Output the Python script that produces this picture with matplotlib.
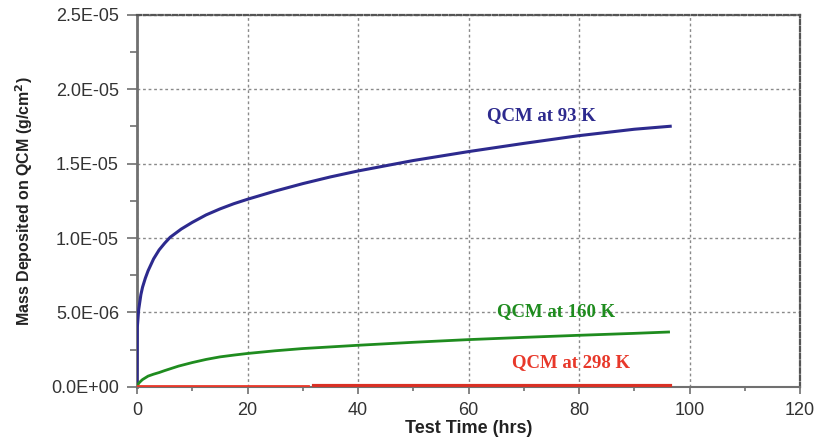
import numpy as np
import matplotlib
matplotlib.use("Agg")
import matplotlib.pyplot as plt
from matplotlib.ticker import MultipleLocator, FuncFormatter

plt.rcParams['font.family'] = ['Liberation Sans', 'DejaVu Sans']

# QCM data (time in hrs, mass in 1e-6 g/cm^2)
t_93 = [0, 0.05, 0.3, 0.7, 1, 1.5, 2, 3, 4, 5, 6, 8, 10, 12.5, 15, 17.5, 20, 25, 30, 35,
        40, 50, 60, 70, 80, 90, 96.5]
m_93 = [0, 4.0, 5.2, 6.2, 6.7, 7.3, 7.8, 8.6, 9.2, 9.65, 10.05, 10.6, 11.05, 11.55, 11.95,
        12.3, 12.6, 13.15, 13.65, 14.1, 14.5, 15.2, 15.8, 16.35, 16.87, 17.3, 17.5]

t_160 = [0, 0.3, 0.7, 1, 2, 3, 4, 5, 7.5, 10, 12.5, 15, 17.5, 20, 25, 30, 40, 50, 60,
         70, 80, 90, 96.2]
m_160 = [0, 0.25, 0.4, 0.5, 0.73, 0.86, 0.97, 1.1, 1.4, 1.64, 1.85, 2.02, 2.14, 2.25, 2.43,
         2.58, 2.8, 3.0, 3.18, 3.33, 3.47, 3.6, 3.69]

t_298a = [0, 31]
m_298a = [0.05, 0.05]
t_298b = [32, 96.5]
m_298b = [0.1, 0.1]

labels = ["QCM at 93 K", "QCM at 160 K", "QCM at 298 K"]
label_pos = [(73.1, 18.2), (75.8, 5.04), (78.5, 1.61)]

blue = "#2d2a8e"
green = "#1f8c1f"
red = "#e8382a"

fig = plt.figure(figsize=(8.22, 4.44), dpi=100)
ax = fig.add_axes([0.1667, 0.1284, 0.8066, 0.8389])

sc = 1e-6
ax.plot(t_93, np.array(m_93) * sc, color=blue, lw=2.2, zorder=3)
ax.plot(t_160, np.array(m_160) * sc, color=green, lw=2, zorder=3)
ax.plot(t_298a, np.array(m_298a) * sc, color=red, lw=2, zorder=3)
ax.plot(t_298b, np.array(m_298b) * sc, color="#d93025", lw=3, zorder=3)

for txt, (x, y), c in zip(labels, label_pos, [blue, green, red]):
    ax.text(x, y * sc, txt, color=c, fontsize=13.5, fontweight='bold',
            family='Liberation Serif', ha='center', va='center')

ax.set_xlim(0, 120)
ax.set_ylim(0, 2.5e-5)
ax.xaxis.set_major_locator(MultipleLocator(20))
ax.xaxis.set_minor_locator(MultipleLocator(10))
ax.yaxis.set_major_locator(MultipleLocator(5e-6))
ax.yaxis.set_minor_locator(MultipleLocator(2.5e-6))
ax.yaxis.set_major_formatter(FuncFormatter(lambda v, p: f"{v:.1E}"))

ax.grid(True, which='major', color='#8a8a8a', linestyle=(0, (2, 2)), lw=1)

for s in ['top', 'right']:
    ax.spines[s].set_linestyle((0, (2, 1.2)))
    ax.spines[s].set_color('#555555')
    ax.spines[s].set_linewidth(1.6)
ax.spines['left'].set_color('#707070')
ax.spines['left'].set_linewidth(2)
ax.spines['bottom'].set_color('#707070')
ax.spines['bottom'].set_linewidth(1.5)

ax.tick_params(axis='both', which='major', color='#707070', labelcolor='#333333',
               labelsize=13, width=1.2)
ax.tick_params(axis='y', which='major', length=7, pad=6)
ax.tick_params(axis='y', which='minor', length=5, color='#707070', width=1.2)
ax.tick_params(axis='x', which='major', length=5, pad=6)
ax.tick_params(axis='x', which='minor', length=3, color='#707070', width=1.2)

ax.set_xlabel("Test Time (hrs)", fontsize=13, fontweight='bold', color='#222222', va='top')
ax.xaxis.set_label_coords(0.5, -0.088)
ax.set_ylabel("Mass Deposited on QCM (g/cm$^\\mathbf{2}$)", fontsize=11.5,
              fontweight='bold', color='#222222')
ax.yaxis.set_label_coords(-0.154, 0.5)

fig.savefig("out.png", dpi=100)
